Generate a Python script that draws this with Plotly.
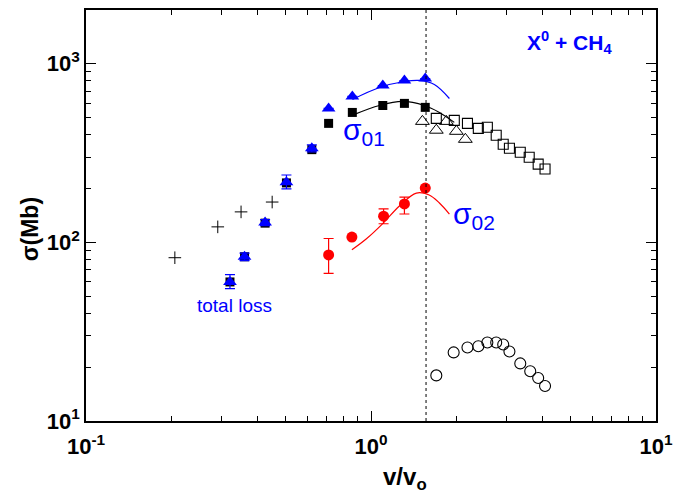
import plotly.graph_objects as go

# ---- data ----
cross_x = [0.205, 0.29, 0.35, 0.45]
cross_y = [82, 122, 148, 168]

tl_x = [0.32, 0.36, 0.425, 0.505, 0.62, 0.71, 0.86, 1.10, 1.31, 1.55]
tl_y = [60, 83, 129, 217, 336, 561, 655, 754, 804, 825]
tl_err_p = [6, 4, 5, 21, 15, 0, 0, 0, 0, 0]
tl_err_m = [5, 4, 5, 18, 15, 0, 0, 0, 0, 0]

s01_y = [60, 83, 128, 215, 330, 463, 533, 583, 599, 569]

fit_tl_x = [0.861, 1.071, 1.31, 1.479, 1.668, 1.884]
fit_tl_y = [630, 735, 794, 805, 764, 638]

fit_01_x = [0.875, 1.071, 1.289, 1.54, 1.738, 1.96]
fit_01_y = [520, 583, 614, 583, 533, 469]

otri_x = [1.515, 1.695, 1.838, 1.993, 2.143]
otri_y = [475, 424, 475, 418, 377]

osq_x = [1.695, 1.96, 2.18, 2.38, 2.56, 2.75, 2.91, 3.06, 3.34, 3.59, 3.86, 4.08]
osq_y = [494, 481, 463, 434, 440, 397, 354, 336, 319, 299, 274, 257]

ocir_x = [1.695, 1.95, 2.18, 2.38, 2.56, 2.75, 2.91, 3.06, 3.34, 3.62, 3.86, 4.08]
ocir_y = [18.0, 24.2, 25.8, 26.2, 27.5, 27.5, 26.8, 24.5, 21.0, 19.0, 17.4, 15.7]

s02_x = [0.71, 0.857, 1.107, 1.31, 1.55]
s02_y = [85, 107, 140, 164, 201]
s02_err_p = [20, 0, 14, 15, 0]
s02_err_m = [18, 0, 13, 20, 0]

fit_02_x = [0.857, 0.964, 1.097, 1.258, 1.443, 1.60, 1.738, 1.884]
fit_02_y = [90.8, 104.6, 126.8, 159.8, 188.6, 184, 166, 144]

v_line = 1.56

x_tickvals = [0.1, 1, 10]
x_ticktext = ["10<sup>-1</sup>", "10<sup>0</sup>", "10<sup>1</sup>"]
y_tickvals = [10, 100, 1000]
y_ticktext = ["10<sup>1</sup>", "10<sup>2</sup>", "10<sup>3</sup>"]

BLUE = "#0000ff"
RED = "#ff0000"

fig = go.Figure()

fig.add_trace(go.Scatter(x=cross_x, y=cross_y, mode="markers",
                         marker=dict(symbol="cross-thin", size=9, line=dict(color="black", width=1))))

fig.add_trace(go.Scatter(x=fit_01_x, y=fit_01_y, mode="lines", line=dict(color="black", width=1.2, shape="spline")))
fig.add_trace(go.Scatter(x=fit_tl_x, y=fit_tl_y, mode="lines", line=dict(color=BLUE, width=1.2, shape="spline")))
fig.add_trace(go.Scatter(x=fit_02_x, y=fit_02_y, mode="lines", line=dict(color=RED, width=1.2, shape="spline")))

fig.add_trace(go.Scatter(x=tl_x, y=s01_y, mode="markers",
                         marker=dict(symbol="square", size=9, color="black")))
fig.add_trace(go.Scatter(x=tl_x, y=tl_y, mode="markers",
                         marker=dict(symbol="triangle-up", size=12, color=BLUE),
                         error_y=dict(type="data", symmetric=False, array=tl_err_p, arrayminus=tl_err_m,
                                      color=BLUE, thickness=1.2, width=5)))

fig.add_trace(go.Scatter(x=otri_x, y=otri_y, mode="markers",
                         marker=dict(symbol="triangle-up-open", size=12, color="black", line=dict(width=1))))
fig.add_trace(go.Scatter(x=osq_x, y=osq_y, mode="markers",
                         marker=dict(symbol="square-open", size=10, color="black", line=dict(width=1.1))))
fig.add_trace(go.Scatter(x=ocir_x, y=ocir_y, mode="markers",
                         marker=dict(symbol="circle-open", size=11, color="black", line=dict(width=1.1))))

fig.add_trace(go.Scatter(x=s02_x, y=s02_y, mode="markers",
                         marker=dict(symbol="circle", size=11, color=RED),
                         error_y=dict(type="data", symmetric=False, array=s02_err_p, arrayminus=s02_err_m,
                                      color=RED, thickness=1.2, width=5)))

fig.add_shape(type="line", x0=v_line, x1=v_line, y0=0, y1=1, xref="x", yref="paper",
              line=dict(color="black", width=1, dash="dot"))

FONT = "Liberation Sans, Arial, sans-serif"
fig.add_annotation(x=0.487, y=0.705, xref="paper", yref="paper", showarrow=False,
                   xanchor="center", yanchor="middle",
                   text="σ<sub>01</sub>", font=dict(family=FONT, size=30, color=BLUE))
fig.add_annotation(x=0.68, y=0.499, xref="paper", yref="paper", showarrow=False,
                   xanchor="center", yanchor="middle",
                   text="σ<sub>02</sub>", font=dict(family=FONT, size=30, color=BLUE))
fig.add_annotation(x=0.261, y=0.281, xref="paper", yref="paper", showarrow=False,
                   xanchor="center", yanchor="middle",
                   text="total loss", font=dict(family=FONT, size=19, color=BLUE))
fig.add_annotation(x=0.849, y=0.922, xref="paper", yref="paper", showarrow=False,
                   xanchor="center", yanchor="middle",
                   text="<b>X<sup>0</sup> + CH<sub>4</sub></b>", font=dict(family=FONT, size=21, color=BLUE))

# axis titles
fig.add_annotation(x=0.559, y=-0.14, xref="paper", yref="paper", showarrow=False,
                   xanchor="center", yanchor="middle",
                   text="<b>v/v<sub>o</sub></b>", font=dict(family=FONT, size=24, color="black"))
fig.add_annotation(x=-0.098, y=0.467, xref="paper", yref="paper", showarrow=False,
                   xanchor="center", yanchor="middle", textangle=-90,
                   text="<b>σ(Mb)</b>", font=dict(family=FONT, size=23, color="black"))

x_minor = [m * 10.0 ** e for e in (-1, 0) for m in range(2, 10)]
y_minor = [m * 10.0 ** e for e in (1, 2, 3) for m in range(2, 10)]

axis_common = dict(showline=True, linecolor="black", linewidth=1.8, mirror="allticks",
                   ticks="inside", ticklen=10, tickwidth=1.3, tickcolor="black",
                   showgrid=False, zeroline=False,
                   tickfont=dict(family=FONT, size=22, color="black", weight="bold"))

fig.update_xaxes(type="log", range=[-1, 1], tickvals=x_tickvals, ticktext=x_ticktext,
                 ticklabelstandoff=5,
                 minor=dict(tickvals=x_minor, ticks="inside", ticklen=5, tickcolor="black", tickwidth=1, showgrid=False),
                 **axis_common)
fig.update_yaxes(type="log", range=[1, 3.3], tickvals=y_tickvals, ticktext=y_ticktext,
                 minor=dict(tickvals=y_minor, ticks="inside", ticklen=5, tickcolor="black", tickwidth=1, showgrid=False),
                 **axis_common)

fig.update_layout(width=681, height=495, showlegend=False,
                  margin=dict(l=86, r=24, t=8, b=74),
                  plot_bgcolor="white", paper_bgcolor="white")

fig.write_html("out.html")
